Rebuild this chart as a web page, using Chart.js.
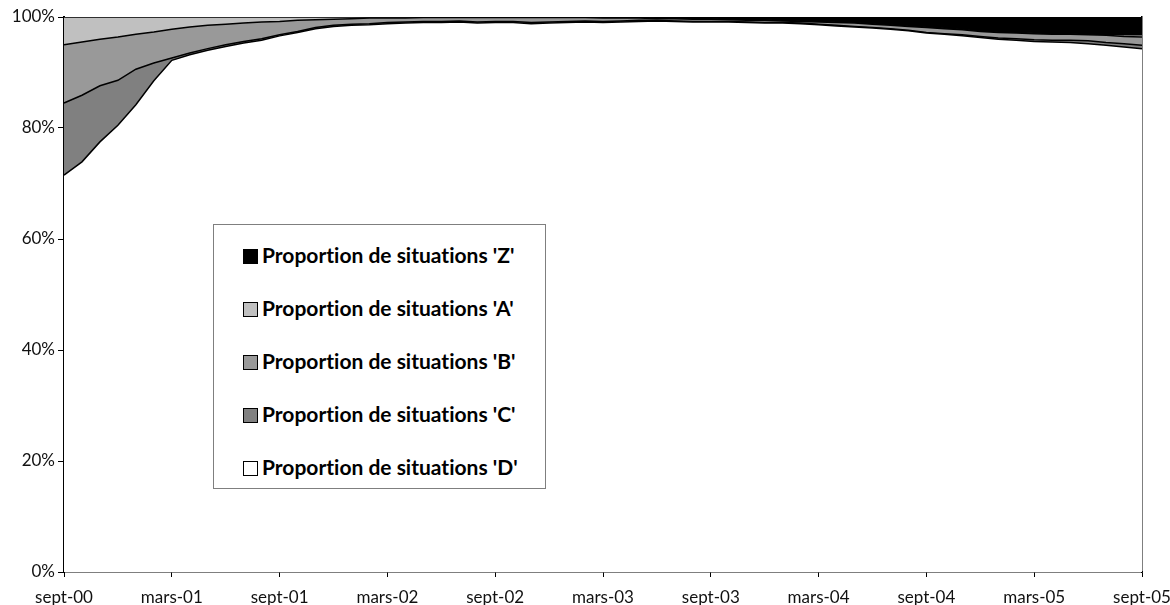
<!DOCTYPE html>
<html>
<head>
<meta charset="utf-8">
<script src="https://cdn.jsdelivr.net/npm/chart.js@4.4.1/dist/chart.umd.min.js"></script>
<style>
  body { margin: 0; background: #fff; }
  #wrap { position: relative; width: 1170px; height: 605px; }
  #legend {
    position: absolute; left: 213px; top: 224px; width: 333px; height: 265px;
    box-sizing: border-box; border: 1px solid #7f7f7f; background: #fff;
    font-family: Lato, "Open Sans", sans-serif; font-weight: bold; font-size: 21px; color: #000;
    font-variant-ligatures: none;
  }
  #legend .item { position: absolute; left: 29px; height: 26px; line-height: 26px; white-space: nowrap; }
  #legend .box { display: inline-block; width: 13px; height: 13px; border: 1px solid #000; vertical-align: -1px; margin-right: 4px; }
</style>
</head>
<body>
<div id="wrap">
  <canvas id="chart" width="1170" height="605"></canvas>
  <div id="legend"></div>
</div>
<script>
// ===== Données =====
const moisNoms = ['janv', 'févr', 'mars', 'avr', 'mai', 'juin', 'juil', 'août', 'sept', 'oct', 'nov', 'déc'];
const debutMois = 8, debutAnnee = 0, nbMois = 61; // sept-00 -> sept-05
const yTicks = [0, 20, 40, 60, 80, 100];

// proportions mensuelles (%)
const situD = [71.5,73.9,77.5,80.5,84.2,88.5,92.2,93.2,94.0,94.7,95.3,95.8,96.6,97.2,97.9,98.3,98.5,98.6,98.8,98.9,
  99.0,99.0,99.1,98.9,99.0,99.0,98.8,98.9,99.0,99.1,99.0,99.1,99.2,99.3,99.2,99.1,99.1,99.1,99.0,98.9,
  98.9,98.8,98.6,98.4,98.2,98.0,97.8,97.5,97.1,96.9,96.6,96.3,96.0,95.8,95.6,95.5,95.4,95.2,94.9,94.6,94.3];
const situC = [13.0,12.0,10.1,8.1,6.4,3.2,0.4,0.3,0.3,0.3,0.3,0.3,0.2,0.2,0.2,0.2,0.2,0.2,0.2,0.2,
  0.2,0.2,0.2,0.2,0.2,0.2,0.2,0.2,0.2,0.2,0.2,0.2,0.2,0.1,0.1,0.1,0.1,0.1,0.1,0.1,
  0.1,0.1,0.1,0.1,0.1,0.1,0.1,0.1,0.1,0.1,0.2,0.2,0.2,0.3,0.3,0.3,0.4,0.5,0.5,0.6,0.6];
const situB = [10.5,9.6,8.4,7.8,6.3,5.6,5.2,4.7,4.2,3.7,3.3,3.0,2.4,2.0,1.4,1.1,1.0,1.0,0.8,0.7,
  0.7,0.7,0.6,0.8,0.7,0.7,0.9,0.8,0.7,0.6,0.6,0.5,0.4,0.3,0.4,0.4,0.4,0.3,0.3,0.4,
  0.3,0.3,0.4,0.5,0.6,0.6,0.6,0.7,0.9,0.9,0.9,0.9,1.0,1.0,1.1,1.1,1.1,1.1,1.3,1.3,1.5];
const situA = [5.0,4.5,4.0,3.6,3.1,2.7,2.2,1.8,1.5,1.3,1.1,0.9,0.8,0.6,0.5,0.4,0.3,0.2,0.2,0.2,
  0.1,0.1,0.1,0.1,0.1,0.1,0.1,0.1,0.1,0.1,0.1,0.1,0.1,0.1,0.1,0.1,0.1,0.1,0.1,0.1,
  0.1,0.1,0.1,0.1,0.1,0.1,0.1,0.1,0.1,0.1,0.1,0.1,0.1,0.1,0.1,0.1,0.1,0.1,0.2,0.3,0.4];
const situZ = [0,0,0,0,0,0,0,0,0,0,0,0,0,0,0,0,0,0,0,0,
  0,0,0,0,0,0,0,0,0,0,0.1,0.1,0.1,0.2,0.2,0.3,0.3,0.4,0.5,0.5,
  0.6,0.7,0.8,0.9,1.0,1.2,1.4,1.6,1.8,2.0,2.2,2.5,2.7,2.8,2.9,3.0,3.0,3.1,3.1,3.2,3.2];

// étiquettes mmm-aa
let labels = [];
for (let i = 0; i < nbMois; i++) {
  let m = (debutMois + i) % 12;
  let a = debutAnnee + Math.floor((debutMois + i) / 12);
  labels.push(moisNoms[m] + '-' + String(a).padStart(2, '0'));
}

// ===== Séries (de bas en haut) =====
const series = [
  { nom: "Proportion de situations 'D'", data: situD, couleur: '#ffffff' },
  { nom: "Proportion de situations 'C'", data: situC, couleur: '#808080' },
  { nom: "Proportion de situations 'B'", data: situB, couleur: '#999999' },
  { nom: "Proportion de situations 'A'", data: situA, couleur: '#c0c0c0' },
  { nom: "Proportion de situations 'Z'", data: situZ, couleur: '#000000' }
];

const police = { family: 'Lato, "Open Sans", sans-serif', size: 17 };

new Chart(document.getElementById('chart'), {
  type: 'line',
  data: {
    labels: labels,
    datasets: series.map((s, i) => ({
      label: s.nom,
      data: s.data,
      backgroundColor: s.couleur,
      borderColor: '#000',
      borderWidth: 1.5,
      pointRadius: 0,
      tension: 0,
      fill: i === 0 ? 'origin' : '-1'
    }))
  },
  options: {
    responsive: false,
    animation: false,
    layout: { padding: { left: 0, right: 28, top: 17, bottom: 0 } },
    plugins: { legend: { display: false }, tooltip: { enabled: false } },
    scales: {
      x: {
        offset: false,
        ticks: {
          autoSkip: false, maxRotation: 0, color: '#111', font: police, padding: 10,
          callback: (v, i) => i % 6 === 0 ? labels[i] : ''
        },
        grid: {
          drawOnChartArea: false, drawTicks: true, tickLength: 5,
          color: ctx => ctx.index % 6 === 0 ? '#000' : 'rgba(0,0,0,0)'
        },
        border: { display: true, color: '#000', width: 1.5 },
        afterFit: s => { s.height = 33; s.paddingLeft = 0; s.paddingRight = 0; }
      },
      y: {
        stacked: true, min: 0, max: 100,
        afterBuildTicks: s => { s.ticks = yTicks.map(v => ({ value: v })); },
        ticks: { color: '#111', font: police, padding: 3, callback: v => v + '%' },
        grid: { drawOnChartArea: false, drawTicks: true, tickLength: 6, color: '#000' },
        border: { display: true, color: '#000', width: 2 },
        afterFit: s => { s.width = 64; s.paddingTop = 0; s.paddingBottom = 0; }
      },
      y2: {
        position: 'right', min: 0, max: 100,
        ticks: { display: false },
        grid: { display: false },
        border: { display: true, color: '#000', width: 1.5 },
        afterFit: s => { s.width = 0; }
      }
    }
  }
});

// ===== Légende (ordre inverse) =====
let leg = document.getElementById('legend');
series.slice().reverse().forEach((s, i) => {
  let d = document.createElement('div');
  d.className = 'item';
  d.style.top = (17 + i * 53) + 'px';
  d.innerHTML = '<span class="box" style="background:' + s.couleur + '"></span>' + s.nom;
  leg.appendChild(d);
});
</script>
</body>
</html>
